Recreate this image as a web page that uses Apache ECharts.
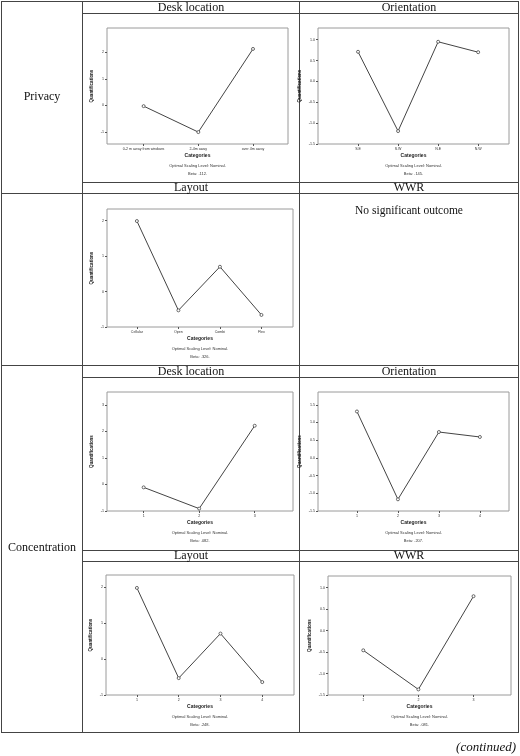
<!DOCTYPE html>
<html>
<head>
<meta charset="utf-8">
<script src="https://cdn.jsdelivr.net/npm/echarts@6/dist/echarts.min.js"></script>
<style>
  html, body { margin: 0; padding: 0; background: #fff; }
  #main { width: 520px; height: 756px; }
</style>
</head>
<body>
<div id="main"></div>
<script>
// category labels
var privDeskCats = ['0-2 m away from windows', '2-4m away', 'over 4m away'];
var privOrientCats = ['S.E', 'S.W', 'N.E', 'N.W'];
var privLayoutCats = ['Cellular', 'Open', 'Combi', 'Flex'];
var concDeskCats = ['1', '2', '3'];
var concOrientCats = ['1', '2', '3', '4'];
var concLayoutCats = ['1', '2', '3', '4'];
var concWwrCats = ['1', '2', '3'];

// quantifications
var privDeskVals = [-0.03, -1.01, 2.13];
var privOrientVals = [0.71, -1.19, 0.95, 0.70];
var privLayoutVals = [1.99, -0.53, 0.70, -0.66];
var concDeskVals = [-0.11, -0.91, 2.21];
var concOrientVals = [1.31, -1.17, 0.73, 0.59];
var concLayoutVals = [1.98, -0.53, 0.71, -0.64];
var concWwrVals = [-0.46, -1.37, 0.80];

// y tick labels
var ticksInt3 = [-1, 0, 1, 2];
var ticksInt4 = [-1, 0, 1, 2, 3];
var ticksHalf1 = [-1.5, -1.0, -0.5, 0.0, 0.5, 1.0];
var ticksHalf2 = [-1.5, -1.0, -0.5, 0.0, 0.5, 1.0, 1.5];

var betas = ['Beta: .112.', 'Beta: .145.', 'Beta: .326.', 'Beta: .082.', 'Beta: .207.', 'Beta: .248.', 'Beta: .081.'];

var charts = [
  { cats: privDeskCats, vals: privDeskVals, ticks: ticksInt3, dec: 0, ymin: -1.46, ymax: 2.92, xmin: 0.33, xmax: 3.64, l: 107, t: 28, w: 181, h: 116, beta: betas[0] },
  { cats: privOrientCats, vals: privOrientVals, ticks: ticksHalf1, dec: 1, ymin: -1.5, ymax: 1.28, xmin: 0.0, xmax: 4.77, l: 318, t: 28, w: 191, h: 116, beta: betas[1] },
  { cats: privLayoutCats, vals: privLayoutVals, ticks: ticksInt3, dec: 0, ymin: -1, ymax: 2.33, xmin: 0.28, xmax: 4.76, l: 107, t: 209, w: 186, h: 118, beta: betas[2] },
  { cats: concDeskCats, vals: concDeskVals, ticks: ticksInt4, dec: 0, ymin: -1, ymax: 3.48, xmin: 0.34, xmax: 3.69, l: 107, t: 392, w: 186, h: 119, beta: betas[3] },
  { cats: concOrientCats, vals: concOrientVals, ticks: ticksHalf2, dec: 1, ymin: -1.5, ymax: 1.86, xmin: 0.05, xmax: 4.71, l: 318, t: 392, w: 191, h: 119, beta: betas[4] },
  { cats: concLayoutCats, vals: concLayoutVals, ticks: ticksInt3, dec: 0, ymin: -1, ymax: 2.34, xmin: 0.26, xmax: 4.76, l: 106, t: 575, w: 188, h: 120, beta: betas[5] },
  { cats: concWwrCats, vals: concWwrVals, ticks: ticksHalf1, dec: 1, ymin: -1.5, ymax: 1.27, xmin: 0.36, xmax: 3.68, l: 328, t: 576, w: 183, h: 119, beta: betas[6] }
];

var grids = [], xAxes = [], yAxes = [], series = [], graphic = [];
var smallFont = 'Arial, "Liberation Sans", sans-serif';

charts.forEach(function (c, i) {
  var xs = c.cats.map(function (_, k) { return k + 1; });
  grids.push({ left: c.l, top: c.t, width: c.w, height: c.h, show: true, borderColor: '#9a9a9a', borderWidth: 1, backgroundColor: '#fff' });
  xAxes.push({
    type: 'value', gridIndex: i, min: c.xmin, max: c.xmax, position: 'bottom',
    axisLine: { show: false, onZero: false },
    axisTick: { show: true, customValues: xs, length: 2, lineStyle: { color: '#555' } },
    axisLabel: { customValues: xs, fontSize: 3.6, color: '#333', margin: 3, fontFamily: smallFont,
      formatter: function (v) { return c.cats[Math.round(v) - 1]; } },
    splitLine: { show: false }
  });
  yAxes.push({
    type: 'value', gridIndex: i, min: c.ymin, max: c.ymax, position: 'left',
    name: 'Quantifications', nameLocation: 'middle', nameRotate: 90, nameGap: c.dec ? 16 : 13,
    nameTextStyle: { fontSize: 4.5, fontWeight: 'bold', color: '#222', fontFamily: smallFont },
    axisLine: { show: false, onZero: false },
    axisTick: { show: true, customValues: c.ticks, length: 2, lineStyle: { color: '#555' } },
    axisLabel: { customValues: c.ticks, fontSize: 3.6, color: '#333', margin: 3, fontFamily: smallFont,
      formatter: function (v) { return c.dec ? Number(v).toFixed(1) : String(Math.round(v)); } },
    splitLine: { show: false }
  });
  series.push({
    type: 'line', xAxisIndex: i, yAxisIndex: i,
    data: c.vals.map(function (v, k) { return [xs[k], v]; }),
    symbol: 'circle', symbolSize: 3, showSymbol: true,
    lineStyle: { color: '#444', width: 1 },
    itemStyle: { color: '#fff', borderColor: '#444', borderWidth: 0.8 },
    silent: true, animation: false
  });
  var cx = c.l + c.w / 2, b = c.t + c.h;
  graphic.push({ type: 'text', x: cx, y: b + 12, style: { text: 'Categories', font: 'bold 5px Arial', fill: '#222', align: 'center', verticalAlign: 'middle' } });
  graphic.push({ type: 'text', x: cx, y: b + 22, style: { text: 'Optimal Scaling Level: Nominal.', font: '4px Arial', fill: '#333', align: 'center', verticalAlign: 'middle' } });
  graphic.push({ type: 'text', x: cx, y: b + 30, style: { text: c.beta, font: '4px Arial', fill: '#333', align: 'center', verticalAlign: 'middle' } });
});

// table rules
function hline(x1, x2, y) { graphic.push({ type: 'line', shape: { x1: x1, y1: y, x2: x2, y2: y }, style: { stroke: '#444', lineWidth: 1 } }); }
function vline(x, y1, y2) { graphic.push({ type: 'line', shape: { x1: x, y1: y1, x2: x, y2: y2 }, style: { stroke: '#444', lineWidth: 1 } }); }
hline(1, 519, 1.5); hline(82, 519, 13.5); hline(82, 519, 182.5); hline(1, 519, 193.5);
hline(1, 519, 365.5); hline(82, 519, 377.5); hline(82, 519, 550.5); hline(82, 519, 561.5); hline(1, 519, 732.5);
vline(1.5, 1, 733); vline(82.5, 1, 733); vline(299.5, 1, 733); vline(518.5, 1, 733);

function serif(text, x, y, size, extra) {
  graphic.push({ type: 'text', x: x, y: y, style: { text: text, font: (extra || '') + size + 'px "Liberation Serif", "DejaVu Serif", serif', fill: '#111', align: 'center', verticalAlign: 'middle' } });
}
serif('Desk location', 191, 7.5, 12); serif('Orientation', 409, 7.5, 12);
serif('Layout', 191, 188, 12); serif('WWR', 409, 188, 12);
serif('Desk location', 191, 371.5, 12); serif('Orientation', 409, 371.5, 12);
serif('Layout', 191, 556, 12); serif('WWR', 409, 556, 12);
serif('Privacy', 42, 97, 12); serif('Concentration', 42, 548, 12);
serif('No significant outcome', 409, 211, 11.5);
graphic.push({ type: 'text', x: 516, y: 748, style: { text: '(continued)', font: 'italic 13px "Liberation Serif", serif', fill: '#111', align: 'right', verticalAlign: 'middle' } });

var chart = echarts.init(document.getElementById('main'), null, { renderer: 'canvas' });
chart.setOption({
  animation: false,
  backgroundColor: '#fff',
  grid: grids,
  xAxis: xAxes,
  yAxis: yAxes,
  series: series,
  graphic: graphic
});
</script>
</body>
</html>
